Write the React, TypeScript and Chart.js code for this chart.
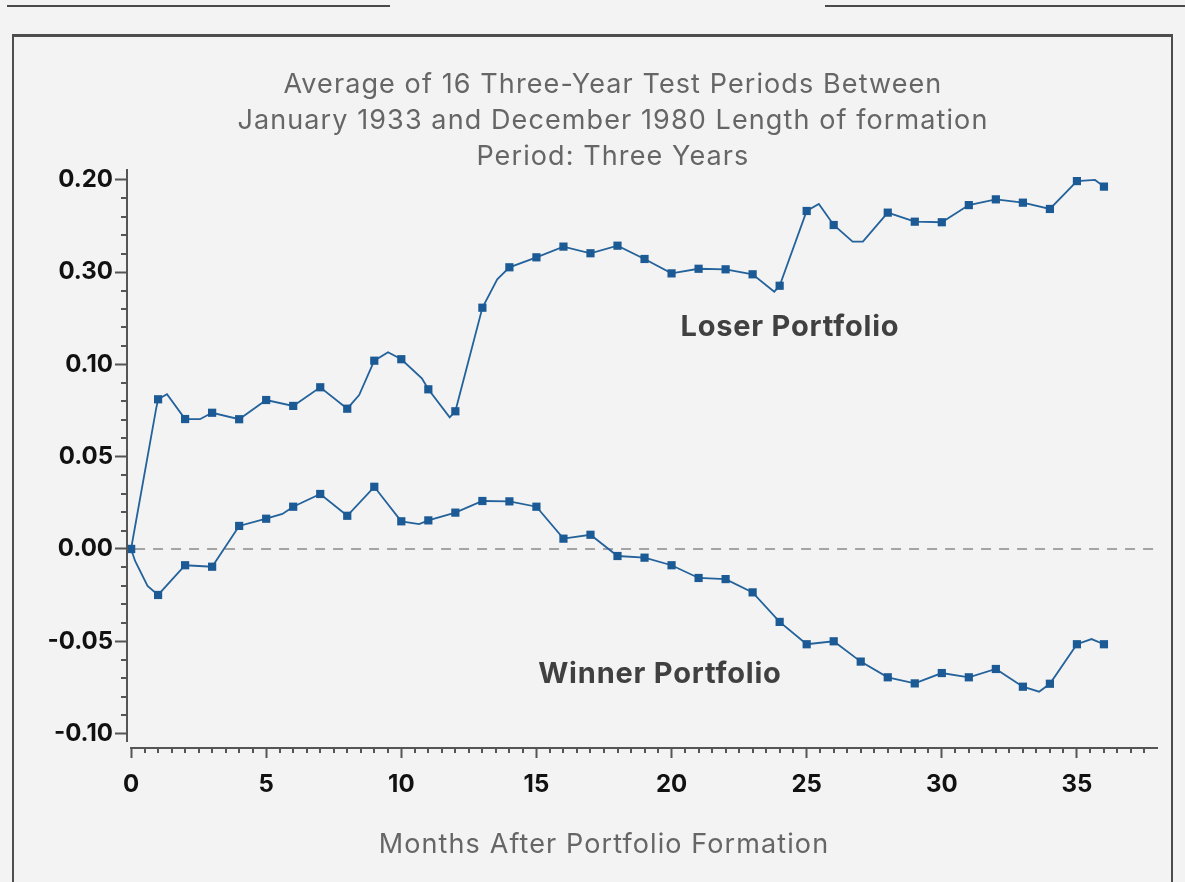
import React, { useEffect, useRef } from "react";
import { Chart, registerables } from "chart.js";

Chart.register(...registerables);

// ---------- data ----------
const MONTHS = [
  0, 1, 2, 3, 4, 5, 6, 7, 8, 9, 10, 11, 12, 13, 14, 15, 16, 17, 18, 19, 20,
  21, 22, 23, 24, 25, 26, 27, 28, 29, 30, 31, 32, 33, 34, 35, 36,
];

// Cumulative average residuals, loser portfolio (marker values; month 27 has no marker)
const LOSER_CAR = [
  0.0, 0.0811, 0.0704, 0.0738, 0.0703, 0.0807, 0.0775, 0.0876, 0.076, 0.102,
  0.1028, 0.0865, 0.0746, 0.1307, 0.1526, 0.158, 0.1638, 0.1602, 0.1643,
  0.1571, 0.1493, 0.1518, 0.1515, 0.1488, 0.1426, 0.1831, 0.1755, null,
  0.1822, 0.1773, 0.177, 0.1863, 0.1894, 0.1876, 0.1842, 0.1993, 0.1963,
];
// extra line vertices between markers (loser)
const LOSER_BEND_MONTHS = [0.93, 1.33, 2.55, 8.44, 9.51, 10.76, 11.79, 13.55, 23.8, 25.45, 26.7, 27.08, 35.67];
const LOSER_BEND_VALUES = [0.0762, 0.0838, 0.0703, 0.0834, 0.1066, 0.0925, 0.0713, 0.1461, 0.1394, 0.1869, 0.1665, 0.1665, 0.1999];

// Cumulative average residuals, winner portfolio
const WINNER_CAR = [
  0.0, -0.0249, -0.0088, -0.0096, 0.0125, 0.0164, 0.0229, 0.0298, 0.018,
  0.0337, 0.015, 0.0155, 0.0197, 0.026, 0.0258, 0.0229, 0.0056, 0.0077,
  -0.0038, -0.0047, -0.0088, -0.0157, -0.0163, -0.0235, -0.0395, -0.0516,
  -0.05, -0.061, -0.0695, -0.0728, -0.0672, -0.0695, -0.065, -0.0746, -0.073,
  -0.0516, -0.0516,
];
const WINNER_BEND_MONTHS = [0.15, 0.61, 5.6, 10.66, 33.6, 35.54];
const WINNER_BEND_VALUES = [-0.0065, -0.02, 0.019, 0.0135, -0.0773, -0.0488];

const Y_TICK_VALUES = [-0.1, -0.05, 0.0, 0.05, 0.1, 0.15, 0.2];
const Y_TICK_LABELS = ["-0.10", "-0.05", "0.00", "0.05", "0.10", "0.30", "0.20"];

const TITLE_LINES = [
  "Average of 16 Three-Year Test Periods Between",
  "January 1933 and December 1980 Length of formation",
  "Period: Three Years",
];
const X_TITLE = "Months After Portfolio Formation";
const LOSER_LABEL = "Loser Portfolio";
const WINNER_LABEL = "Winner Portfolio";

// ---------- style / layout ----------
const FONT = "Inter, 'Noto Sans', sans-serif";
const BLUE_LINE = "#23629b";
const BLUE_MARK = "#1b5a94";
const AXIS = "#555555";
const LOSER_LABEL_AT = { x: 24.38, y: 0.1203 };
const WINNER_LABEL_AT = { x: 19.57, y: -0.0677 };
const X_TITLE_AT = 17.5;
const TITLE_AT = 17.83;

function linePoints(values: (number | null)[], bx: number[], by: number[]) {
  const pts: { x: number; y: number }[] = [];
  MONTHS.forEach((m, i) => {
    const v = values[i];
    if (v !== null && v !== undefined) pts.push({ x: m, y: v });
  });
  bx.forEach((x, i) => pts.push({ x, y: by[i] }));
  pts.sort((a, b) => a.x - b.x);
  return pts;
}
function markerPoints(values: (number | null)[]) {
  const pts: { x: number; y: number }[] = [];
  MONTHS.forEach((m, i) => {
    const v = values[i];
    if (v !== null && v !== undefined) pts.push({ x: m, y: v });
  });
  return pts;
}

const decorPlugin = {
  id: "decor",
  beforeDatasetsDraw(chart: any) {
    const { ctx, chartArea, scales } = chart;
    const x = scales.x;
    const y = scales.y;
    ctx.save();
    ctx.strokeStyle = "#8a8a8a";
    ctx.lineWidth = 1.5;
    ctx.setLineDash([10, 8]);
    const y0 = y.getPixelForValue(0);
    ctx.beginPath();
    ctx.moveTo(x.getPixelForValue(0) + 4, y0);
    ctx.lineTo(chartArea.right - 1, y0);
    ctx.stroke();
    ctx.restore();
  },
  afterDraw(chart: any) {
    const { ctx, chartArea, scales } = chart;
    const x = scales.x;
    const y = scales.y;
    ctx.save();
    ctx.strokeStyle = AXIS;
    ctx.lineWidth = 2;
    // y axis line
    ctx.beginPath();
    ctx.moveTo(chartArea.left, chartArea.top - 1);
    ctx.lineTo(chartArea.left, chartArea.bottom - 6);
    ctx.stroke();
    // x axis line
    ctx.beginPath();
    ctx.moveTo(x.getPixelForValue(0) - 1, chartArea.bottom);
    ctx.lineTo(chartArea.right, chartArea.bottom);
    ctx.stroke();
    // minor ticks y (every 0.01)
    for (let k = -10; k <= 20; k++) {
      if (k % 5 === 0) continue;
      const py = Math.round(y.getPixelForValue(k / 100));
      ctx.beginPath();
      ctx.moveTo(chartArea.left - 6, py);
      ctx.lineTo(chartArea.left, py);
      ctx.stroke();
    }
    // minor ticks x (every half month)
    for (let k = 1; k <= 75; k++) {
      if (k % 10 === 0) continue;
      const px = Math.round(x.getPixelForValue(k / 2));
      ctx.beginPath();
      ctx.moveTo(px, chartArea.bottom);
      ctx.lineTo(px, chartArea.bottom + 5);
      ctx.stroke();
    }
    ctx.textAlign = "center";
    ctx.textBaseline = "middle";
    // chart title
    ctx.fillStyle = "#666666";
    ctx.font = `27px ${FONT}`;
    (ctx as any).letterSpacing = "1.1px";
    const tx = x.getPixelForValue(TITLE_AT);
    TITLE_LINES.forEach((line, i) => {
      ctx.fillText(line, tx, chartArea.top - 85 + i * 36);
    });
    // x axis title
    ctx.fillText(X_TITLE, x.getPixelForValue(X_TITLE_AT), chartArea.bottom + 97);
    // series labels
    ctx.fillStyle = "#404040";
    ctx.font = `bold 29px ${FONT}`;
    (ctx as any).letterSpacing = "0.8px";
    ctx.fillText(LOSER_LABEL, x.getPixelForValue(LOSER_LABEL_AT.x), y.getPixelForValue(LOSER_LABEL_AT.y));
    ctx.fillText(WINNER_LABEL, x.getPixelForValue(WINNER_LABEL_AT.x), y.getPixelForValue(WINNER_LABEL_AT.y));
    (ctx as any).letterSpacing = "0px";
    ctx.restore();
  },
};

export default function App() {
  const ref = useRef<HTMLCanvasElement | null>(null);

  useEffect(() => {
    if (!ref.current) return;
    const tickFont = { family: FONT, size: 24, weight: "bold" as const };
    const chart = new Chart(ref.current, {
      type: "line",
      data: {
        datasets: [
          {
            label: "Loser markers",
            data: markerPoints(LOSER_CAR),
            showLine: false,
            pointStyle: "rect",
            pointRadius: 5.8,
            pointBackgroundColor: BLUE_MARK,
            pointBorderWidth: 0,
          },
          {
            label: "Winner markers",
            data: markerPoints(WINNER_CAR),
            showLine: false,
            pointStyle: "rect",
            pointRadius: 5.8,
            pointBackgroundColor: BLUE_MARK,
            pointBorderWidth: 0,
          },
          {
            label: LOSER_LABEL,
            data: linePoints(LOSER_CAR, LOSER_BEND_MONTHS, LOSER_BEND_VALUES),
            borderColor: BLUE_LINE,
            borderWidth: 1.8,
            pointRadius: 0,
            tension: 0,
          },
          {
            label: WINNER_LABEL,
            data: linePoints(WINNER_CAR, WINNER_BEND_MONTHS, WINNER_BEND_VALUES),
            borderColor: BLUE_LINE,
            borderWidth: 1.8,
            pointRadius: 0,
            tension: 0,
          },
        ],
      },
      options: {
        animation: false,
        responsive: false,
        maintainAspectRatio: false,
        events: [],
        layout: { padding: { left: 0, right: 27, top: 132, bottom: 0 } },
        plugins: {
          legend: { display: false },
          tooltip: { enabled: false },
          title: { display: false },
        },
        scales: {
          x: {
            type: "linear",
            min: -0.15,
            max: 38,
            border: { display: false },
            grid: { drawOnChartArea: false, drawTicks: true, tickLength: 10, tickColor: AXIS, tickWidth: 2 },
            ticks: {
              stepSize: 5,
              includeBounds: false,
              maxRotation: 0,
              autoSkip: false,
              color: "#111111",
              font: tickFont,
              padding: 12,
            },
            afterFit: (s: any) => {
              s.height = 134;
            },
          },
          y: {
            type: "linear",
            min: -0.1078,
            max: 0.2053,
            border: { display: false },
            grid: { drawOnChartArea: false, drawTicks: true, tickLength: 12, tickColor: AXIS, tickWidth: 2 },
            ticks: {
              stepSize: 0.05,
              includeBounds: false,
              autoSkip: false,
              color: "#111111",
              font: tickFont,
              padding: 2,
              callback: (value: any) => {
                const idx = Y_TICK_VALUES.findIndex((t) => Math.abs(t - Number(value)) < 1e-6);
                return idx >= 0 ? Y_TICK_LABELS[idx] : "";
              },
            },
            afterFit: (s: any) => {
              s.width = 127;
            },
          },
        },
      },
      plugins: [decorPlugin],
    } as any);
    return () => chart.destroy();
  }, []);

  return (
    <div style={{ position: "fixed", left: 0, top: 0, width: 1185, height: 882, background: "#f3f3f3", overflow: "hidden" }}>
      <div style={{ position: "absolute", left: 7, top: 5, width: 383, height: 2, background: "#4a4a4a" }} />
      <div style={{ position: "absolute", left: 825, top: 5, width: 360, height: 2, background: "#4a4a4a" }} />
      <div
        style={{
          position: "absolute",
          left: 12,
          top: 34,
          width: 1161,
          height: 900,
          boxSizing: "border-box",
          border: "2px solid #4d4d4d",
          borderTop: "3px solid #4d4d4d",
          background: "#f3f3f3",
        }}
      />
      <canvas
        ref={ref}
        width={1185}
        height={844}
        style={{ position: "absolute", left: 0, top: 38, width: 1185, height: 844 }}
      />
    </div>
  );
}
